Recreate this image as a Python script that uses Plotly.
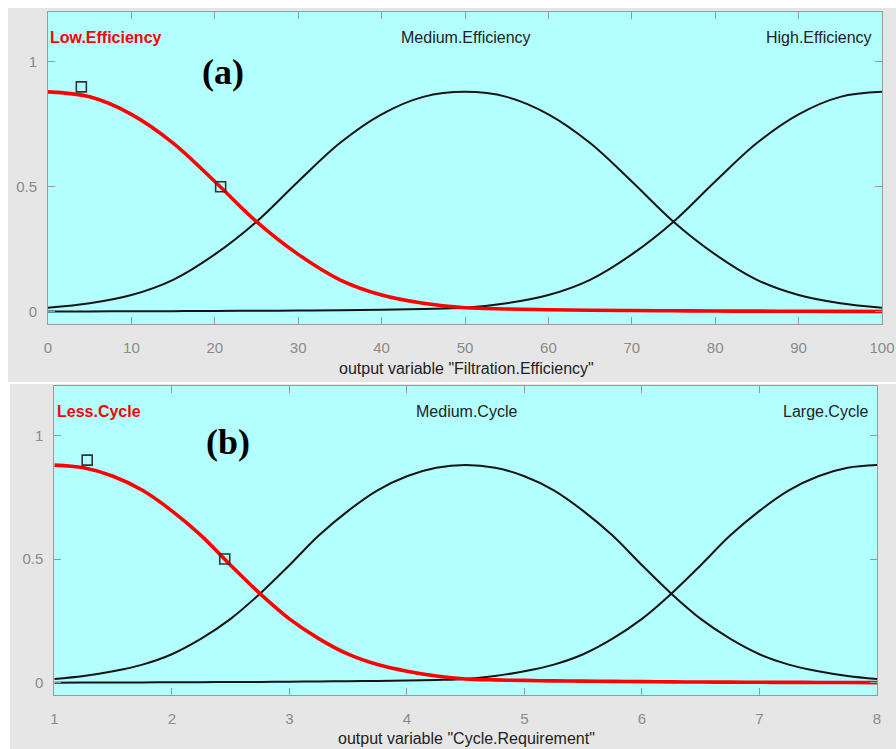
import plotly.graph_objects as go

W, H = 896, 749

# ---- (a) output variable "Filtration.Efficiency" : membership degrees ----
eff_x = [0, 5, 10, 15, 20, 25, 30, 35, 40, 45, 50, 55, 60, 65, 70, 75, 80, 85, 90, 95, 100]
eff_low = [0.88, 0.86, 0.79, 0.675, 0.521, 0.36, 0.229, 0.127, 0.066, 0.033, 0.015,
           0.01, 0.007, 0.005, 0.004, 0.003, 0.002, 0.0015, 0.001, 0.0005, 0.0]
eff_medium = [0.015, 0.033, 0.066, 0.127, 0.229, 0.36, 0.521, 0.675, 0.79, 0.86, 0.88,
              0.86, 0.79, 0.675, 0.521, 0.36, 0.229, 0.127, 0.066, 0.033, 0.015]
eff_high = [0.0, 0.0005, 0.001, 0.0015, 0.002, 0.003, 0.004, 0.005, 0.007, 0.01, 0.015,
            0.033, 0.066, 0.127, 0.229, 0.36, 0.521, 0.675, 0.79, 0.86, 0.88]
eff_names = ["Low.Efficiency", "Medium.Efficiency", "High.Efficiency"]
eff_ticks = [0, 10, 20, 30, 40, 50, 60, 70, 80, 90, 100]
eff_handle_x = [4.0, 20.7]
eff_handle_y = [0.9, 0.5]

# ---- (b) output variable "Cycle.Requirement" : membership degrees ----
cyc_x = [1.0, 1.25, 1.5, 1.75, 2.0, 2.25, 2.5, 2.75, 3.0, 3.25, 3.5, 3.75, 4.0, 4.25, 4.5,
         4.75, 5.0, 5.25, 5.5, 5.75, 6.0, 6.25, 6.5, 6.75, 7.0, 7.25, 7.5, 7.75, 8.0]
cyc_less = [0.88, 0.869, 0.835, 0.778, 0.695, 0.595, 0.475, 0.36, 0.258, 0.178, 0.115, 0.073,
            0.046, 0.027, 0.015, 0.011, 0.009, 0.007, 0.006, 0.005, 0.004, 0.003, 0.0025,
            0.002, 0.0015, 0.001, 0.0008, 0.0004, 0.0]
cyc_medium = [0.015, 0.027, 0.046, 0.073, 0.115, 0.178, 0.258, 0.36, 0.475, 0.595, 0.695, 0.778,
              0.835, 0.869, 0.88, 0.869, 0.835, 0.778, 0.695, 0.595, 0.475, 0.36, 0.258, 0.178,
              0.115, 0.073, 0.046, 0.027, 0.015]
cyc_large = [0.0, 0.0004, 0.0008, 0.001, 0.0015, 0.002, 0.0025, 0.003, 0.004, 0.005, 0.006,
             0.007, 0.009, 0.011, 0.015, 0.027, 0.046, 0.073, 0.115, 0.178, 0.258, 0.36, 0.475,
             0.595, 0.695, 0.778, 0.835, 0.869, 0.88]
cyc_names = ["Less.Cycle", "Medium.Cycle", "Large.Cycle"]
cyc_ticks = [1, 2, 3, 4, 5, 6, 7, 8]
cyc_handle_x = [1.28, 2.45]
cyc_handle_y = [0.9, 0.5]

y_ticks = [0, 0.5, 1]
y_ticklabels = ["0", "0.5", "1"]

CYAN = "#b3ffff"
PANEL = "#e6e6e6"
FRAME = "#9a9a9a"
TICKTXT = "#8a8a8a"
SANS = "Liberation Sans, Arial, sans-serif"
SERIF = "Liberation Serif, Times New Roman, serif"


def px_x(x):
    return x / W


def px_y(y):
    return 1 - y / H


fig = go.Figure()


def add_mfs(xs, curves, hx, hy, xa, ya):
    # black curves first, selected (red) curve over them
    for ys in curves[1:]:
        fig.add_trace(go.Scatter(x=xs, y=ys, mode="lines", xaxis=xa, yaxis=ya,
                                 line=dict(color="#141414", width=2, shape="spline", smoothing=1.0),
                                 hoverinfo="skip", showlegend=False))
    fig.add_trace(go.Scatter(x=xs, y=curves[0], mode="lines", xaxis=xa, yaxis=ya,
                             line=dict(color="#ff0000", width=3.6, shape="spline", smoothing=1.0),
                             hoverinfo="skip", showlegend=False))
    fig.add_trace(go.Scatter(x=hx, y=hy, mode="markers", xaxis=xa, yaxis=ya,
                             marker=dict(symbol="square-open", size=10, color="#333333",
                                         line=dict(width=1.6, color="#333333")),
                             hoverinfo="skip", showlegend=False))


add_mfs(eff_x, [eff_low, eff_medium, eff_high], eff_handle_x, eff_handle_y, "x", "y")
add_mfs(cyc_x, [cyc_less, cyc_medium, cyc_large], cyc_handle_x, cyc_handle_y, "x2", "y2")

axis_common = dict(showline=True, linecolor=FRAME, linewidth=1, mirror="ticks",
                   ticks="inside", ticklen=7, tickwidth=1, tickcolor=FRAME,
                   showgrid=False, zeroline=False, automargin=False,
                   tickfont=dict(family=SANS, size=15, color=TICKTXT))

# panel (a) plot box: x 48..882, y 12..324
ax_a = [48, 882]
ay_a = [12, 324]
# panel (b) plot box: x 54..877, y 386..695
ax_b = [54.3, 877]
ay_b = [386, 695]

fig.update_layout(
    width=W, height=H,
    margin=dict(l=0, r=0, t=0, b=0),
    paper_bgcolor="white",
    plot_bgcolor=CYAN,
    xaxis=dict(domain=[px_x(ax_a[0]), px_x(ax_a[1])], range=[0, 100],
               tickvals=eff_ticks, anchor="y", ticklabelstandoff=10, **axis_common),
    yaxis=dict(domain=[px_y(ay_a[1]), px_y(ay_a[0])], range=[-0.05, 1.2],
               tickvals=y_ticks, ticktext=y_ticklabels, anchor="x",
               ticklabelstandoff=7, **axis_common),
    xaxis2=dict(domain=[px_x(ax_b[0]), px_x(ax_b[1])], range=[1, 8],
                tickvals=cyc_ticks, anchor="y2", ticklabelstandoff=10, **axis_common),
    yaxis2=dict(domain=[px_y(ay_b[1]), px_y(ay_b[0])], range=[-0.05, 1.2],
                tickvals=y_ticks, ticktext=y_ticklabels, anchor="x2",
                ticklabelstandoff=7, **axis_common),
)

# grey window panels, then the cyan axes faces on top of them
shapes = [
    dict(type="rect", xref="paper", yref="paper", x0=px_x(8), x1=1, y0=px_y(382), y1=px_y(8),
         fillcolor=PANEL, line=dict(width=0), layer="below"),
    dict(type="rect", xref="paper", yref="paper", x0=px_x(10), x1=1, y0=0, y1=px_y(384),
         fillcolor=PANEL, line=dict(width=0), layer="below"),
    dict(type="rect", xref="x domain", yref="y domain", x0=0, x1=1, y0=0, y1=1,
         fillcolor=CYAN, line=dict(width=0), layer="below"),
    dict(type="rect", xref="x2 domain", yref="y2 domain", x0=0, x1=1, y0=0, y1=1,
         fillcolor=CYAN, line=dict(width=0), layer="below"),
]
fig.update_layout(shapes=shapes)

ann = []


def label(text, x, y, size, color, xanchor="center", bold=False, family=SANS):
    t = f"<b>{text}</b>" if bold else text
    ann.append(dict(text=t, x=px_x(x), y=px_y(y), xref="paper", yref="paper",
                    xanchor=xanchor, yanchor="middle", showarrow=False,
                    font=dict(family=family, size=size, color=color)))


# panel (a) texts
label(eff_names[0], 48, 38, 16, "#ff0000", "left", bold=True)
label(eff_names[1], 466, 38, 16, "#222222")
label(eff_names[2], 874, 38, 16, "#222222", "right")
label("(a)", 223, 72, 36, "#000000", bold=True, family=SERIF)
label('output variable "Filtration.Efficiency"', 466, 368, 16, "#222222")

# panel (b) texts
label(cyc_names[0], 55, 411, 16, "#ff0000", "left", bold=True)
label(cyc_names[1], 466, 411, 16, "#222222")
label(cyc_names[2], 870, 411, 16, "#222222", "right")
label("(b)", 228, 442, 36, "#000000", bold=True, family=SERIF)
label('output variable "Cycle.Requirement"', 466, 738, 16, "#222222")

fig.update_layout(annotations=ann)

fig.write_html("out.html")
